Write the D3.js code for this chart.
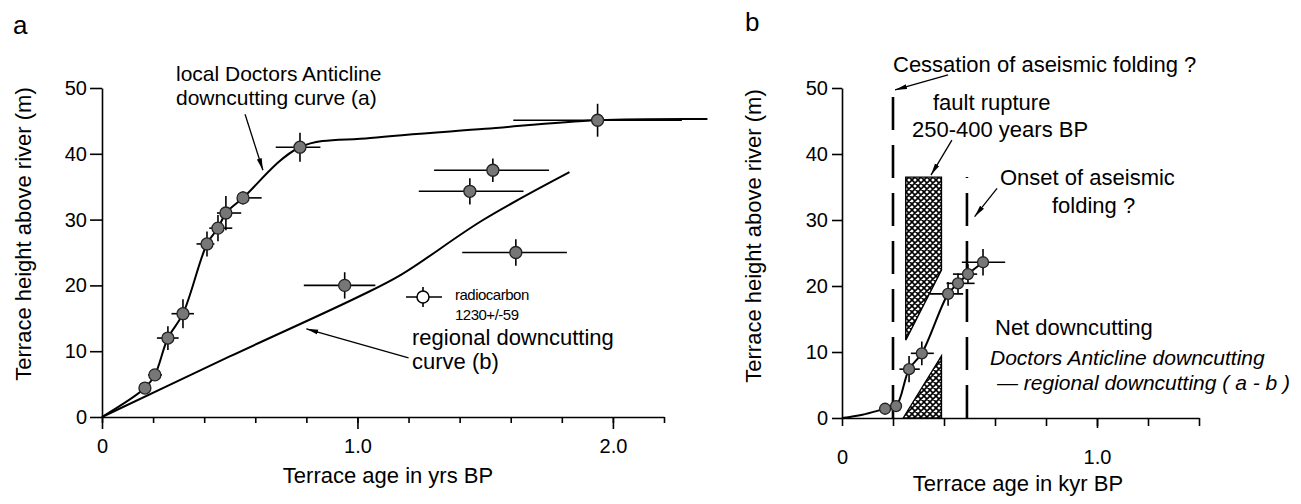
<!DOCTYPE html>
<html lang="en">
  <head>
    <meta charset="UTF-8" />
    <title>Terrace downcutting</title>
    <style>
      body { margin: 0; background: #fff; }
      svg { display: block; font-family: "Liberation Sans", Arial, sans-serif; }
      .axis path, .axis line { stroke: #000; stroke-width: 1.6; }
      .axis text { font-size: 20px; fill: #000; font-family: "Liberation Sans", Arial, sans-serif; }
      .label { font-size: 22px; fill: #000; }
    </style>
  </head>
  <body>
    <svg width="1301" height="504"></svg>

    <script src="https://d3js.org/d3.v7.min.js"></script>
    <script>
      // Panel a: terrace ages (kyr BP) and heights (m)
      const ageA = [0.168, 0.207, 0.258, 0.317, 0.411, 0.454, 0.485, 0.552, 0.775, 0.95, 1.44, 1.53, 1.62, 1.94];
      const heightA = [4.4, 6.4, 12.0, 15.7, 26.3, 28.7, 31.0, 33.3, 41.0, 20.0, 34.3, 37.5, 25.0, 45.1];
      const ageLoA = [0.15, 0.18, 0.215, 0.272, 0.37, 0.42, 0.45, 0.535, 0.68, 0.79, 1.24, 1.3, 1.41, 1.61];
      const ageHiA = [0.19, 0.235, 0.3, 0.36, 0.44, 0.51, 0.545, 0.625, 0.855, 1.07, 1.65, 1.75, 1.82, 2.27];
      const heightErrA = [0.6, 0.8, 1.8, 2.2, 1.9, 2.0, 2.6, 1.0, 2.2, 2.0, 2.0, 1.8, 2.0, 2.5];

      // local Doctors Anticline curve (a)
      const curveAgeA = [0, 0.168, 0.207, 0.258, 0.317, 0.411, 0.454, 0.485, 0.552, 0.775, 1.05, 1.5, 1.94, 2.37];
      const curveHeightA = [0, 4.4, 6.4, 12.0, 15.7, 26.3, 28.7, 31.0, 33.3, 41.0, 42.4, 43.8, 45.1, 45.3];
      // regional curve (b)
      const regAge = [0, 0.5, 1.0, 1.17, 1.49, 1.83];
      const regHeight = [0, 9.2, 18.2, 21.6, 29.9, 37.2];

      // Panel b: net downcutting
      const ageB = [0.169, 0.212, 0.263, 0.313, 0.416, 0.455, 0.494, 0.553];
      const heightB = [1.4, 1.8, 7.4, 9.8, 18.8, 20.4, 21.8, 23.6];
      const ageLoB = [0.15, 0.19, 0.225, 0.27, 0.345, 0.41, 0.435, 0.47];
      const ageHiB = [0.19, 0.235, 0.305, 0.36, 0.475, 0.52, 0.53, 0.64];
      const heightErrB = [0.5, 0.8, 2.0, 1.8, 1.8, 1.5, 1.5, 2.0];
      const curveAgeB = [0, 0.08, 0.169, 0.212, 0.263, 0.313, 0.416, 0.455, 0.494, 0.553];
      const curveHeightB = [0, 0.5, 1.4, 1.8, 7.4, 9.8, 18.8, 20.4, 21.8, 23.6];

      // fault rupture window 250-400 yrs BP (hatched)
      const ruptureUpper = [[0.25, 36.5], [0.39, 36.5], [0.39, 22.4], [0.25, 11.8]];
      const ruptureLower = [[0.24, 0], [0.39, 9.4], [0.39, 0]];
      // cessation / onset of aseismic folding
      const foldAge = [0.2, 0.49];
      const foldTop = [50, 36.5];

      const ticksA = d3.range(0, 2.21, 0.2);
      const ticksB = d3.range(0, 1.41, 0.2);
      const majorTicks = [0, 1, 2];
      const yTicks = [0, 10, 20, 30, 40, 50];

      const svg = d3.select("svg");

      // defs: arrowhead + crosshatch
      const defs = svg.append("defs");
      defs.append("marker")
        .attr("id", "arrow")
        .attr("viewBox", "0 0 12 6")
        .attr("refX", 12).attr("refY", 3)
        .attr("markerWidth", 12).attr("markerHeight", 6)
        .attr("markerUnits", "userSpaceOnUse")
        .attr("orient", "auto")
        .append("path").attr("d", "M0,0.5 L12,3 L0,5.5 Z").attr("fill", "#000");
      const hatch = defs.append("pattern")
        .attr("id", "hatch")
        .attr("patternUnits", "userSpaceOnUse")
        .attr("width", 6).attr("height", 6);
      hatch.append("rect").attr("width", 6).attr("height", 6).attr("fill", "#fff");
      hatch.append("path")
        .attr("d", "M0,0 L6,6 M6,0 L0,6 M-1,5 L1,7 M5,-1 L7,1 M-1,1 L1,-1 M5,7 L7,5")
        .attr("stroke", "#000").attr("stroke-width", 1.6);

      // ---------- Panel a ----------
      const xA = d3.scaleLinear().domain([0, 2.2]).range([102, 664]);
      const yA = d3.scaleLinear().domain([0, 50]).range([417, 88]);

      const a = svg.append("g");

      a.append("g").attr("class", "axis")
        .attr("transform", `translate(0,${yA(0)})`)
        .call(d3.axisBottom(xA).tickValues(ticksA).tickSize(6).tickSizeOuter(0).tickFormat(""));
      a.append("g").attr("class", "axis")
        .attr("transform", `translate(0,${yA(0)})`)
        .call(d3.axisBottom(xA).tickValues(majorTicks).tickSize(12).tickPadding(10).tickSizeOuter(0)
          .tickFormat((d) => (d === 0 ? "0" : d3.format(".1f")(d))))
        .call((g) => g.select(".domain").remove());
      a.append("g").attr("class", "axis")
        .attr("transform", `translate(${xA(0)},0)`)
        .call(d3.axisLeft(yA).tickValues(yTicks).tickSize(12).tickPadding(3).tickSizeOuter(0));

      a.append("text").attr("class", "label")
        .attr("transform", "translate(31,234) rotate(-90)")
        .attr("text-anchor", "middle")
        .text("Terrace height above river (m)");
      a.append("text").attr("class", "label")
        .attr("x", 388).attr("y", 483)
        .attr("text-anchor", "middle")
        .text("Terrace age in yrs BP");
      a.append("text").attr("x", 13).attr("y", 34).style("font-size", "26px").text("a");

      const lineA = d3.line().x((d) => xA(d[0])).y((d) => yA(d[1])).curve(d3.curveCatmullRom.alpha(0.5));
      a.append("path")
        .attr("d", lineA(d3.zip(curveAgeA, curveHeightA)))
        .attr("fill", "none").attr("stroke", "#000").attr("stroke-width", 2);
      a.append("path")
        .attr("d", lineA(d3.zip(regAge, regHeight)))
        .attr("fill", "none").attr("stroke", "#000").attr("stroke-width", 2);

      function drawPoints(g, x, y, ages, heights, lo, hi, yErr, r) {
        const pts = g.selectAll(".pt").data(d3.range(ages.length)).join("g").attr("class", "pt");
        pts.append("line")
          .attr("x1", (i) => x(lo[i])).attr("x2", (i) => x(hi[i]))
          .attr("y1", (i) => y(heights[i])).attr("y2", (i) => y(heights[i]))
          .attr("stroke", "#000").attr("stroke-width", 1.6);
        pts.append("line")
          .attr("x1", (i) => x(ages[i])).attr("x2", (i) => x(ages[i]))
          .attr("y1", (i) => y(heights[i] - yErr[i])).attr("y2", (i) => y(heights[i] + yErr[i]))
          .attr("stroke", "#000").attr("stroke-width", 1.6);
        pts.append("circle")
          .attr("cx", (i) => x(ages[i])).attr("cy", (i) => y(heights[i]))
          .attr("r", r)
          .attr("fill", "#777").attr("stroke", "#222").attr("stroke-width", 1.3);
      }
      drawPoints(a, xA, yA, ageA, heightA, ageLoA, ageHiA, heightErrA, 6);

      // legend (radiocarbon)
      const lg = a.append("g").attr("transform", "translate(423,297)");
      lg.append("line").attr("x1", -17).attr("x2", 19).attr("stroke", "#000").attr("stroke-width", 1.6);
      lg.append("line").attr("y1", -10).attr("y2", 10).attr("stroke", "#000").attr("stroke-width", 1.6);
      lg.append("circle").attr("r", 6).attr("fill", "#fff").attr("stroke", "#000").attr("stroke-width", 1.5);
      a.append("text").attr("x", 455).attr("y", 300).style("font-size", "15px").style("letter-spacing", "-0.5px").text("radiocarbon");
      a.append("text").attr("x", 455).attr("y", 320).style("font-size", "15px").style("letter-spacing", "-0.5px").text("1230+/-59");

      // annotations
      a.append("text").attr("class", "label").style("font-size", "21px").attr("x", 176).attr("y", 81).text("local Doctors Anticline");
      a.append("text").attr("class", "label").style("font-size", "21px").attr("x", 176).attr("y", 105).text("downcutting curve (a)");
      a.append("line")
        .attr("x1", xA(0.56)).attr("y1", yA(46.0)).attr("x2", xA(0.63)).attr("y2", yA(37.5))
        .attr("stroke", "#000").attr("stroke-width", 1.3).attr("marker-end", "url(#arrow)");
      a.append("text").attr("class", "label").attr("x", 412).attr("y", 345).text("regional downcutting");
      a.append("text").attr("class", "label").attr("x", 412).attr("y", 369).text("curve  (b)");
      a.append("line")
        .attr("x1", xA(1.2)).attr("y1", yA(9.0)).attr("x2", xA(0.8)).attr("y2", yA(13.4))
        .attr("stroke", "#000").attr("stroke-width", 1.3).attr("marker-end", "url(#arrow)");

      // ---------- Panel b ----------
      const xB = d3.scaleLinear().domain([0, 1.4]).range([842, 1199]);
      const yB = d3.scaleLinear().domain([0, 50]).range([418, 88]);

      const b = svg.append("g");

      b.append("g").attr("class", "axis")
        .attr("transform", `translate(0,${yB(0)})`)
        .call(d3.axisBottom(xB).tickValues(ticksB).tickSize(8).tickSizeOuter(0).tickFormat(""));
      b.append("g").attr("class", "axis")
        .attr("transform", `translate(0,${yB(0)})`)
        .call(d3.axisBottom(xB).tickValues([0, 1]).tickSize(10).tickPadding(22).tickSizeOuter(0)
          .tickFormat((d) => (d === 0 ? "0" : d3.format(".1f")(d))))
        .call((g) => g.select(".domain").remove())
        .call((g) => g.selectAll(".tick").filter((d) => d === 0).select("line").remove());
      b.append("g").attr("class", "axis")
        .attr("transform", `translate(${xB(0)},0)`)
        .call(d3.axisLeft(yB).tickValues(yTicks).tickSize(10).tickPadding(4).tickSizeOuter(0));

      b.append("text").attr("class", "label")
        .attr("transform", "translate(761,236) rotate(-90)")
        .attr("text-anchor", "middle")
        .text("Terrace height above river (m)");
      b.append("text").attr("class", "label")
        .attr("x", 1018).attr("y", 491)
        .attr("text-anchor", "middle")
        .text("Terrace age in kyr BP");
      b.append("text").attr("x", 745).attr("y", 31).style("font-size", "26px").text("b");

      // hatched rupture window
      const poly = d3.line().x((d) => xB(d[0])).y((d) => yB(d[1]));
      [ruptureUpper, ruptureLower].forEach((p) => {
        b.append("path")
          .attr("d", poly(p) + "Z")
          .attr("fill", "url(#hatch)").attr("stroke", "#000").attr("stroke-width", 1.4);
      });

      // dashed folding lines
      b.selectAll(".fold").data(d3.range(foldAge.length)).join("line")
        .attr("class", "fold")
        .attr("x1", (i) => xB(foldAge[i])).attr("x2", (i) => xB(foldAge[i]))
        .attr("y1", yB(0)).attr("y2", (i) => yB(foldTop[i]))
        .attr("stroke", "#000").attr("stroke-width", 2.6)
        .attr("stroke-dasharray", "33,15");

      const lineB = d3.line().x((d) => xB(d[0])).y((d) => yB(d[1])).curve(d3.curveCatmullRom.alpha(0.5));
      b.append("path")
        .attr("d", lineB(d3.zip(curveAgeB, curveHeightB)))
        .attr("fill", "none").attr("stroke", "#000").attr("stroke-width", 2);
      drawPoints(b, xB, yB, ageB, heightB, ageLoB, ageHiB, heightErrB, 5.5);

      // annotations
      b.append("text").attr("class", "label").attr("x", 893).attr("y", 72).text("Cessation of aseismic folding ?");
      b.append("line")
        .attr("x1", xB(0.416)).attr("y1", yB(52)).attr("x2", xB(0.208)).attr("y2", yB(49.7))
        .attr("stroke", "#000").attr("stroke-width", 1.3).attr("marker-end", "url(#arrow)");
      b.append("text").attr("class", "label").attr("x", 933).attr("y", 110).text("fault rupture");
      b.append("text").attr("class", "label").attr("x", 912).attr("y", 137).text("250-400 years BP");
      b.append("line")
        .attr("x1", xB(0.431)).attr("y1", yB(42.1)).attr("x2", xB(0.349)).attr("y2", yB(36.8))
        .attr("stroke", "#000").attr("stroke-width", 1.3).attr("marker-end", "url(#arrow)");
      b.append("text").attr("class", "label").attr("x", 1000).attr("y", 185).text("Onset of aseismic");
      b.append("text").attr("class", "label").attr("x", 1052).attr("y", 213).text("folding ?");
      b.append("line")
        .attr("x1", xB(0.608)).attr("y1", yB(34.8)).attr("x2", xB(0.52)).attr("y2", yB(30.5))
        .attr("stroke", "#000").attr("stroke-width", 1.3).attr("marker-end", "url(#arrow)");
      b.append("text").attr("class", "label").attr("x", 995).attr("y", 335).text("Net downcutting");
      b.append("text").attr("class", "label").attr("x", 990).attr("y", 365)
        .style("font-style", "italic").style("font-size", "21px").text("Doctors Anticline downcutting");
      b.append("text").attr("class", "label").attr("x", 997).attr("y", 390)
        .style("font-style", "italic").style("font-size", "21px").text("\u2014 regional downcutting ( a - b )");
    </script>
  </body>
</html>
